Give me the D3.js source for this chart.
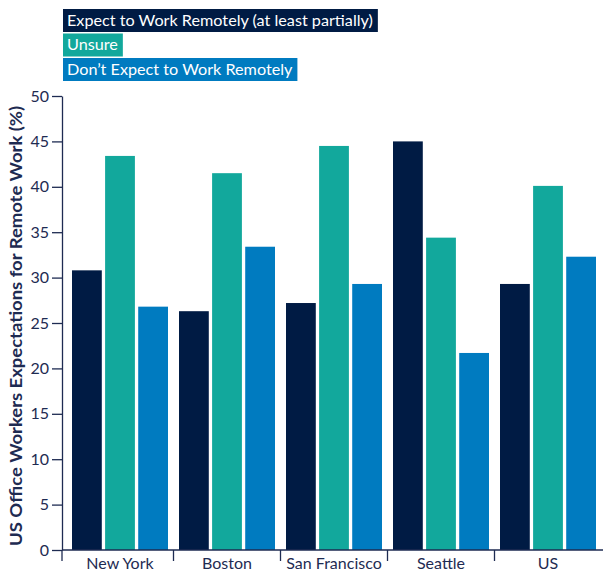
<!DOCTYPE html>
<html>
<head>
<meta charset="utf-8">
<script src="https://cdn.jsdelivr.net/npm/d3@7"></script>
<style>
  html, body { margin: 0; padding: 0; background: #fff; }
  svg { display: block; font-family: Lato, "Open Sans", sans-serif; }
</style>
</head>
<body>
<svg id="chart" width="603" height="574"></svg>
<script>
// Cities surveyed and share of office workers per answer (%)
const categories = ["New York", "Boston", "San Francisco", "Seattle", "US"];
const seriesNames = [
  "Expect to Work Remotely (at least partially)",
  "Unsure",
  "Don\u2019t Expect to Work Remotely"
];
const expectRemote = [30.8, 26.3, 27.2, 45.0, 29.3];
const unsure       = [43.4, 41.5, 44.5, 34.4, 40.1];
const dontExpect   = [26.8, 33.4, 29.3, 21.7, 32.3];
const yTicks = [0, 5, 10, 15, 20, 25, 30, 35, 40, 45, 50];
const colors = ["#001b44", "#12a89c", "#007bc0"];

const seriesValues = [expectRemote, unsure, dontExpect];
const axisColor = "#1e2b52";
const textColor = "#1e2b52";

const svg = d3.select("#chart");

const y = d3.scaleLinear().domain([0, 50]).range([550, 96]);
const axisX = 62;

// Bar placement
const x0 = d3.scaleBand().domain(categories).range([72, 596])
  .paddingInner(11 / 107).paddingOuter(0);
const x1 = d3.scaleBand().domain(d3.range(seriesNames.length))
  .range([0, x0.bandwidth()]).paddingInner(0.1);
const gap = x0.step() - x0.bandwidth();

// Bars
const groups = svg.append("g").selectAll("g")
  .data(categories)
  .join("g")
  .attr("transform", d => `translate(${x0(d)},0)`);

groups.selectAll("rect")
  .data((c, i) => seriesValues.map((vals, s) => ({ s, v: vals[i] })))
  .join("rect")
  .attr("x", d => x1(d.s))
  .attr("width", x1.bandwidth())
  .attr("y", d => y(d.v))
  .attr("height", d => y(0) - y(d.v))
  .attr("fill", d => colors[d.s]);

// Y axis
const yAxis = svg.append("g")
  .attr("transform", `translate(${axisX},0)`)
  .call(d3.axisLeft(y).tickValues(yTicks).tickSize(10).tickSizeOuter(0).tickPadding(3));
yAxis.select(".domain").attr("stroke", axisColor).attr("stroke-width", 1.3);
yAxis.selectAll(".tick line").attr("stroke", axisColor).attr("stroke-width", 1.3);
yAxis.selectAll(".tick text")
  .attr("fill", textColor)
  .style("font-size", "16px")
  .style("font-family", "Lato, sans-serif");

// X axis line across the plot
svg.append("line")
  .attr("x1", axisX).attr("x2", 603)
  .attr("y1", y(0)).attr("y2", y(0))
  .attr("stroke", axisColor).attr("stroke-width", 1.3);

// Category separators between the groups
const sepData = categories.map((c, i) => i === 0 ? axisX : x0(c) - gap / 2);
svg.append("g").selectAll("line")
  .data(sepData)
  .join("line")
  .attr("x1", d => d).attr("x2", d => d)
  .attr("y1", y(0)).attr("y2", y(0) + 11)
  .attr("stroke", axisColor).attr("stroke-width", 1.3);

// Category labels, centred under each group
svg.append("g").selectAll("text")
  .data(categories)
  .join("text")
  .attr("x", d => x0(d) + x0.bandwidth() / 2)
  .attr("y", 569)
  .attr("text-anchor", "middle")
  .attr("fill", textColor)
  .style("font-size", "16px")
  .text(d => d);

// Y axis title
svg.append("text")
  .attr("transform", `translate(22,326) rotate(-90)`)
  .attr("text-anchor", "middle")
  .attr("fill", textColor)
  .attr("textLength", 440)
  .attr("lengthAdjust", "spacingAndGlyphs")
  .style("font-size", "17px")
  .style("font-weight", "bold")
  .text("US Office Workers Expectations for Remote Work (%)");

// Legend: coloured boxes with white text
const legend = svg.append("g").attr("transform", "translate(63,9)");
seriesNames.forEach((name, i) => {
  const g = legend.append("g").attr("transform", `translate(0,${i * 24.5})`);
  const t = g.append("text")
    .attr("x", 4)
    .attr("y", 16.5)
    .attr("fill", "#fff")
    .style("font-size", "16.2px")
    .text(name);
  const w = t.node().getComputedTextLength();
  g.insert("rect", "text")
    .attr("width", w + 9)
    .attr("height", 23)
    .attr("fill", colors[i]);
});
</script>
</body>
</html>
